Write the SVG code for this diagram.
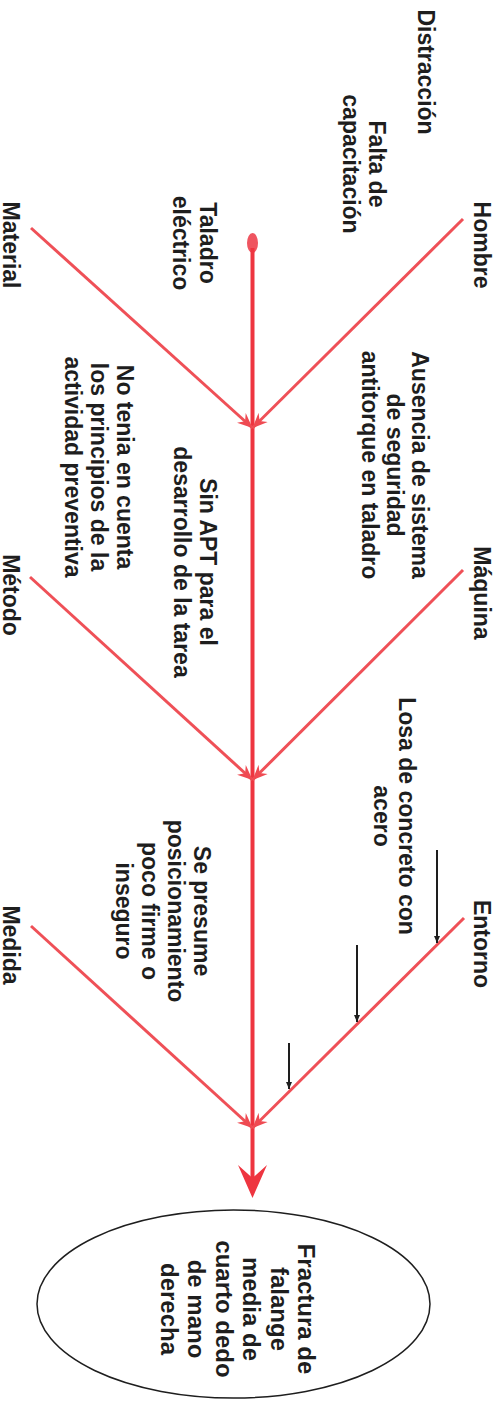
<svg xmlns="http://www.w3.org/2000/svg" width="499" height="1402" viewBox="0 0 499 1402">
<style>
.t{font-family:"Liberation Sans",Arial,sans-serif;font-weight:700;font-size:23px;fill:#1e1e1e;text-anchor:middle}
.e{font-size:24px}
.br{stroke:#ef5057;stroke-width:3;fill:none;marker-end:url(#ah)}
.sp{stroke:#ee3540;stroke-width:4;fill:none}
.bk{stroke:#1e1e1e;stroke-width:2;fill:none;marker-end:url(#bh)}
</style>
<defs>
<marker id="ah" viewBox="-15 -7 16 14" refX="0" refY="0" markerWidth="16" markerHeight="14" markerUnits="userSpaceOnUse" orient="auto">
<path d="M0,0 L-15,-6.5 L-10,0 L-15,6.5 Z" fill="#ef4a52"/>
</marker>
<marker id="bh" viewBox="-7 -3.5 8 7" refX="0" refY="0" markerWidth="8" markerHeight="7" markerUnits="userSpaceOnUse" orient="auto">
<path d="M0,0 L-7,-3 L-7,3 Z" fill="#1e1e1e"/>
</marker>
</defs>
<g id="connectors">
<ellipse cx="252.5" cy="243" rx="5.5" ry="10" fill="#ef5560"/>
<line class="sp" x1="252.5" y1="248" x2="252.5" y2="1182"/>
<path d="M252.5,1198 L238,1165 L252.5,1178 L267,1165 Z" fill="#ee3540"/>
<line class="br" x1="463" y1="219" x2="252.5" y2="428"/>
<line class="br" x1="31" y1="228" x2="252.5" y2="428"/>
<line class="br" x1="463" y1="570" x2="252.5" y2="780"/>
<line class="br" x1="30" y1="577" x2="252.5" y2="780"/>
<line class="br" x1="464" y1="918" x2="252.5" y2="1128"/>
<line class="br" x1="31" y1="926" x2="252.5" y2="1128"/>
<line class="bk" x1="437" y1="850" x2="437" y2="943"/>
<line class="bk" x1="357" y1="945" x2="357" y2="1022"/>
<line class="bk" x1="289" y1="1043" x2="289" y2="1089"/>
</g>
<g id="hombre"><text class="t" transform="translate(474,245) rotate(90)">Hombre</text></g>
<g id="material"><text class="t" transform="translate(3,245) rotate(90)">Material</text></g>
<g id="maquina"><text class="t" transform="translate(474,593) rotate(90)">Máquina</text></g>
<g id="metodo"><text class="t" transform="translate(3,595) rotate(90)">Método</text></g>
<g id="entorno"><text class="t" transform="translate(474,944) rotate(90)">Entorno</text></g>
<g id="medida"><text class="t" transform="translate(3,945) rotate(90)">Medida</text></g>
<g id="distraccion"><text class="t" transform="translate(418,72) rotate(90)">Distracción</text></g>
<g id="falta-capacitacion"><text class="t" transform="translate(369,164) rotate(90)"><tspan x="0" y="0">Falta de</tspan><tspan x="0" y="26">capacitación</tspan></text></g>
<g id="taladro"><text class="t" transform="translate(200,243) rotate(90)"><tspan x="0" y="0">Taladro</tspan><tspan x="0" y="27">eléctrico</tspan></text></g>
<g id="ausencia"><text class="t" transform="translate(412,465) rotate(90)"><tspan x="0" y="0">Ausencia de sistema</tspan><tspan x="0" y="25">de seguridad</tspan><tspan x="0" y="50">antitorque en taladro</tspan></text></g>
<g id="no-tenia"><text class="t" transform="translate(117,467) rotate(90)"><tspan x="0" y="0">No tenia en cuenta</tspan><tspan x="0" y="26">los principios de la</tspan><tspan x="0" y="52">actividad preventiva</tspan></text></g>
<g id="sin-apt"><text class="t" transform="translate(200,562) rotate(90)"><tspan x="0" y="0">Sin APT para el</tspan><tspan x="0" y="26">desarrollo de la tarea</tspan></text></g>
<g id="losa"><text class="t" transform="translate(399,816) rotate(90)"><tspan x="0" y="0">Losa de concreto con</tspan><tspan x="0" y="25">acero</tspan></text></g>
<g id="se-presume"><text class="t" transform="translate(194,911) rotate(90)"><tspan x="0" y="0">Se presume</tspan><tspan x="0" y="26">posicionamiento</tspan><tspan x="0" y="52">poco firme o</tspan><tspan x="0" y="78">inseguro</tspan></text></g>
<g id="efecto">
<ellipse cx="233.5" cy="1304" rx="196.5" ry="94" fill="#fff" stroke="#1e1e1e" stroke-width="1.5"/>
<text class="t e" transform="translate(298,1309) rotate(90)"><tspan x="0" y="0">Fractura de</tspan><tspan x="0" y="27.5">falange</tspan><tspan x="0" y="55">media de</tspan><tspan x="0" y="82.5">cuarto dedo</tspan><tspan x="0" y="110">de mano</tspan><tspan x="0" y="137.5">derecha</tspan></text>
</g>
</svg>
